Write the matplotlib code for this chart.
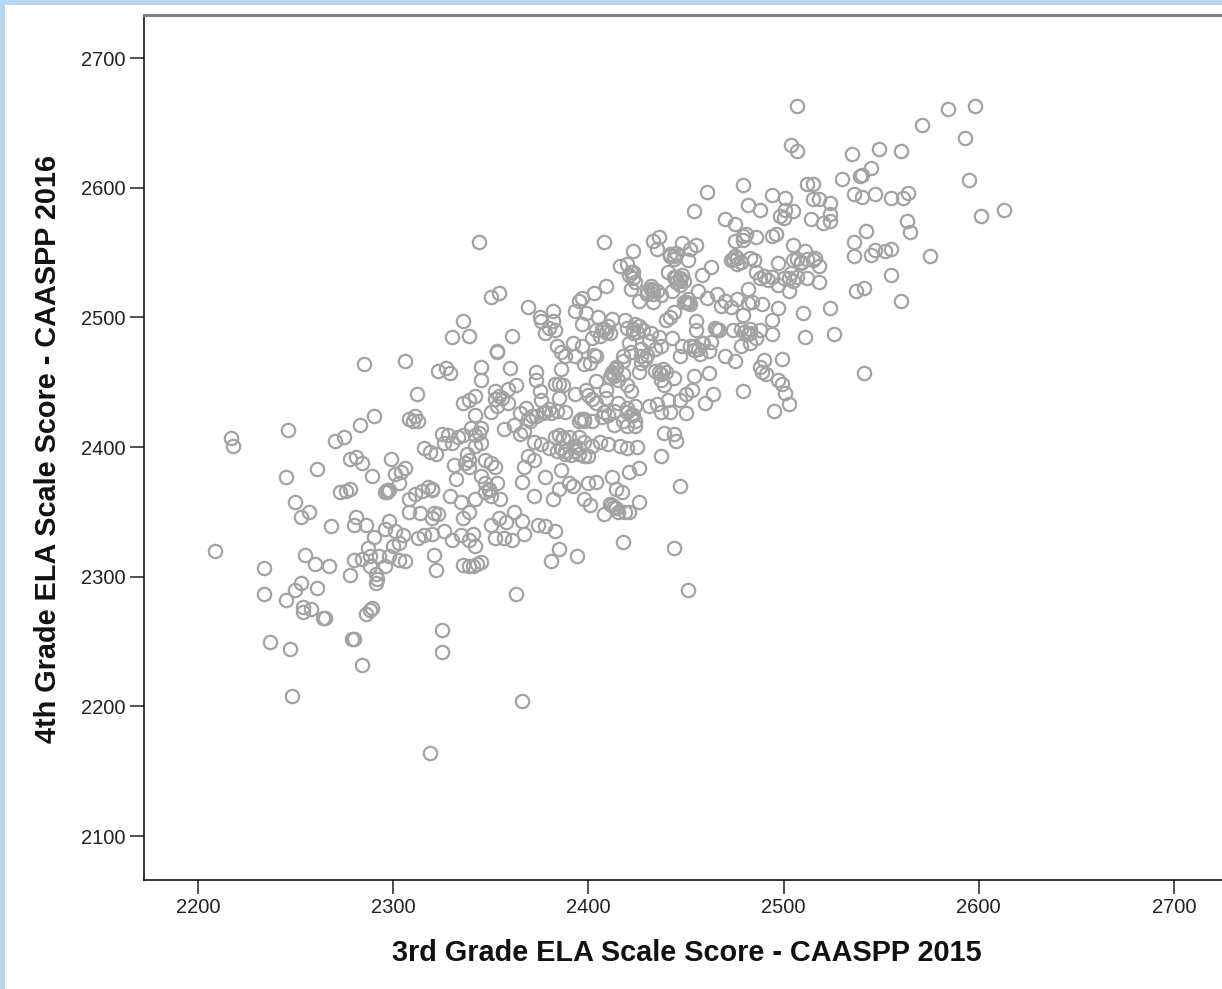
import matplotlib
matplotlib.use('Agg')
import matplotlib.pyplot as plt
from matplotlib.patches import Rectangle

plt.rcParams['font.family'] = ['Liberation Sans', 'DejaVu Sans']

grade3 = [2584,2598,2507,2571,2593,2504,2507,2535,2549,2560,2545,2540,2530,2539,2595,2512,2515,2479,2461,2536,
          2540,2547,2555,2561,2564,2601,2613,2494,2501,2515,2518,2524,2505,2501,2482,2488,2454,2524,2498,2500,
          2514,2520,2524,2563,2565,2542,2470,2475,2486,2479,2481,2494,2496,2475,2479,2505,2536,2408,2344,2433,
          2436,2435,2448,2452,2455,2423,2442,2444,2451,2474,2476,2478,2483,2485,2497,2511,2515,2518,2516,2505,
          2509,2512,2536,2545,2547,2552,2555,2575,2518,2512,2507,2504,2500,2497,2503,2490,2486,2482,2555,2541,
          2537,2560,2510,2511,2524,2526,2541,
          2458,2463,2416,2420,2422,2423,2424,2432,2433,2430,2441,2444,2445,2447,2449,2447,2443,2437,2435,2426,
          2433,2456,2461,2466,2470,2476,2468,2473,2482,2489,2497,2452,2451,2409,2422,2397,2395,2403,2354,2350,
          2369,2375,2382,2382,2393,2399,2405,2412,2404,2406,2408,2411,2402,2397,2419,2424,2420,2423,2428,2432,
          2436,2431,2440,2444,2449,2442,2455,2455,2466,2474,2478,2483,2488,2494,2494,2479,2484,2478,2483,2486,
          2463,2459,2457,2462,2454,2452,2448,2443,2437,2434,2427,2421,2418,2414,2412,2418,2422,2430,2427,2426,
          2434,2437,2440,2444,2439,2447,2470,2475,2462,2454,2479,2490,2488,2489,2491,2497,2499,2499,2501,2503,
          2495,2460,2464,2453,2450,2447,2441,2435,2437,2442,2450,2444,2445,2439,2437,2444,2447,2451,
          2217,2218,2209,2234,2234,2237,2247,2245,2250,2253,2254,2254,2258,2261,2255,2260,2267,2264,2265,2248,
          2246,2245,2250,2253,2257,2261,2268,2270,2273,2276,2278,2275,2278,2281,2284,2283,2285,2290,2289,2281,
          2280,2286,2278,2280,2284,2288,2290,2287,2291,2293,2291,2292,2279,2280,2284,2286,2288,2289,2288,2296,
          2298,2300,2303,2303,2306,2298,2296,2301,2305,2297,2297,2299,2301,2304,2306,2303,2308,2306,2312,2308,
          2310,2311,2313,2311,2315,2320,2308,2314,2313,2316,2321,2320,2323,2326,2321,2322,2320,2319,2325,2325,
          2366,2363,2323,2327,2329,2330,2336,2339,2316,2319,2322,2325,2328,2330,2326,2333,2336,2331,2332,2329,
          2330,2335,2339,2341,2342,2336,2339,2341,2343,2345,2336,2339,2335,2342,2339,2338,2342,2345,2340,2345,
          2342,2336,2339,2342,2345,2345,2350,2352,2356,2353,2353,2361,2360,2363,2359,2353,
          2347,2350,2352,2345,2347,2349,2350,2353,2355,2350,2354,2358,2357,2352,2361,2362,2366,2367,2369,2372,
          2366,2372,2367,2374,2378,2383,2385,2381,2394,2382,2385,2390,2392,2378,2386,2372,2376,2380,2384,2388,
          2391,2395,2398,2400,2393,2387,2390,2395,2398,2402,2400,2404,2398,2401,2408,2411,2413,2414,2417,2419,
          2415,2418,2426,2421,2412,2421,2426,2416,2420,2425,2406,2410,2413,2407,2404,2409,2402,2400,2398,2402,
          2395,2388,2384,2381,2377,2373,2370,2365,2368,2362,2357,2359,2365,2367,2376,2385,2375,2373,2373,2383,
          2385,2387,2393,2399,2404,2401,2404,2398,2393,2386,2384,2386,2392,2388,2378,2376,2380,2383,2397,2403,
          2409,2415,2411,2418,2420,2422,2415,2420,2424,2423,2424,2420,2424,2418,2413,2431,
          # overlapping clumps
          2473,2476,2478,2475,2442,2444,2445,2445,2447,2448,2430,2432,2433,2421,2423,2450,2451,2407,2409,2410,
          2423,2425,2426,2412,2414,2413,2427,2429,2436,2437,2438,2454,2456,2458,2465,2467,2480,2482,2483,2507,
          2509,2503,2505,2488,2490,2492,2494,2420,2422,2408,2410,
          2352,2354,2383,2385,2387,2342,2344,2337,2339,2347,2349,2318,2320,2386,2388,2393,2395,2396,2398,2369,
          2371,2378,2380,2412,2414,2296,2298]

grade4 = [2661,2663,2663,2648,2638,2633,2628,2626,2630,2628,2615,2610,2607,2609,2606,2603,2603,2602,2597,2595,
          2593,2595,2592,2592,2596,2578,2583,2594,2592,2591,2591,2588,2582,2583,2587,2583,2582,2580,2578,2577,
          2576,2573,2574,2574,2566,2567,2576,2572,2562,2563,2564,2563,2564,2559,2560,2556,2558,2558,2558,2559,
          2562,2553,2557,2553,2556,2551,2547,2545,2544,2545,2541,2543,2546,2544,2542,2551,2544,2540,2546,2544,
          2542,2545,2547,2548,2552,2551,2553,2547,2527,2530,2531,2534,2530,2525,2520,2532,2535,2522,2533,2523,
          2520,2513,2503,2485,2507,2487,2457,
          2533,2539,2540,2541,2535,2530,2527,2524,2521,2518,2535,2531,2527,2530,2528,2525,2520,2517,2520,2513,
          2512,2520,2515,2518,2513,2514,2509,2508,2511,2510,2507,2510,2511,2524,2522,2515,2513,2519,2519,2516,
          2508,2500,2505,2497,2505,2503,2500,2499,2490,2486,2491,2488,2484,2495,2498,2495,2492,2488,2490,2488,
          2485,2482,2498,2504,2512,2500,2497,2490,2491,2490,2491,2488,2490,2498,2487,2502,2512,2478,2480,2484,
          2481,2480,2472,2474,2475,2478,2478,2484,2478,2476,2476,2480,2470,2462,2456,2466,2473,2471,2465,2458,
          2459,2452,2458,2453,2448,2470,2470,2466,2457,2455,2443,2467,2462,2458,2456,2452,2449,2468,2442,2433,
          2428,2434,2441,2444,2441,2436,2436,2433,2427,2427,2426,2410,2405,2411,2393,2322,2370,2290,
          2407,2401,2320,2307,2287,2250,2244,2282,2290,2295,2277,2273,2275,2291,2317,2310,2308,2268,2268,2208,
          2413,2377,2358,2346,2350,2383,2339,2405,2365,2366,2368,2408,2391,2392,2388,2417,2464,2424,2378,2346,
          2340,2340,2301,2313,2314,2316,2331,2322,2302,2316,2295,2298,2252,2252,2232,2271,2274,2276,2308,2308,
          2316,2324,2313,2326,2312,2343,2337,2335,2332,2367,2365,2391,2379,2381,2384,2372,2360,2466,2441,2422,
          2420,2424,2420,2364,2366,2368,2350,2349,2330,2332,2349,2345,2348,2335,2317,2305,2333,2164,2259,2242,
          2204,2287,2459,2461,2457,2485,2497,2486,2399,2396,2395,2410,2409,2403,2403,2408,2409,2386,2375,2362,
          2328,2332,2328,2333,2324,2309,2308,2308,2310,2311,2345,2350,2358,2360,2385,2395,2401,2403,2415,2415,
          2425,2434,2436,2439,2462,2452,2427,2443,2438,2473,2474,2486,2461,2448,2445,2432,
          2390,2388,2385,2378,2372,2368,2362,2372,2360,2340,2345,2342,2330,2330,2328,2350,2373,2385,2393,2390,
          2343,2362,2333,2340,2339,2335,2321,2312,2316,2360,2368,2372,2370,2377,2382,2404,2402,2399,2397,2395,
          2394,2395,2393,2393,2401,2407,2408,2408,2404,2401,2372,2373,2360,2355,2348,2356,2354,2368,2365,2350,
          2350,2327,2358,2350,2377,2381,2384,2401,2399,2400,2404,2402,2417,2423,2434,2438,2437,2440,2422,2420,
          2420,2427,2428,2426,2426,2424,2420,2426,2430,2417,2414,2434,2410,2412,2436,2438,2443,2458,2452,2449,
          2449,2448,2441,2444,2451,2465,2470,2464,2470,2460,2478,2473,2480,2470,2488,2497,2492,2490,2478,2471,
          2444,2452,2454,2456,2448,2443,2434,2430,2432,2425,2420,2416,2416,2420,2428,2432,
          # overlapping clumps
          2544,2546,2543,2547,2549,2547,2550,2531,2529,2533,2520,2522,2518,2533,2535,2512,2514,2491,2489,2493,
          2491,2489,2493,2458,2460,2455,2470,2468,2458,2456,2460,2478,2476,2480,2492,2490,2489,2487,2491,2545,
          2543,2530,2528,2530,2532,2529,2531,2427,2425,2427,2425,
          2437,2439,2408,2409,2407,2409,2411,2388,2390,2365,2367,2369,2367,2399,2397,2397,2399,2422,2420,2422,
          2424,2427,2429,2355,2353,2365,2367]

x_ticks = [2200, 2300, 2400, 2500, 2600, 2700]
y_ticks = [2100, 2200, 2300, 2400, 2500, 2600, 2700]

fig = plt.figure(figsize=(12.22, 9.89), dpi=100)
ax = fig.add_axes([144/1222, 1-879.5/989, 1-144/1222, (879.5-15)/989])

# the grey circles
ax.plot(grade3, grade4, linestyle='none', marker='o', markersize=9.6, markerfacecolor='none',
        markeredgecolor='#a3a3a3', markeredgewidth=1.6)

ax.set_xlim(2172.4, 2724.6)
ax.set_ylim(2066.5, 2733.2)
ax.set_xticks(x_ticks)
ax.set_yticks(y_ticks)
ax.tick_params(length=10, width=1.1, color='#222222', labelsize=14.5, labelcolor='#222222', pad=3)

ax.spines['right'].set_visible(False)
ax.spines['left'].set_linewidth(1.1)
ax.spines['bottom'].set_linewidth(1.1)
ax.spines['top'].set_linewidth(2.2)
ax.spines['top'].set_color('#808080')

fig.text(686.5/1222, 1-953/989, '3rd Grade ELA Scale Score - CAASPP 2015', fontsize=20.8, fontweight='bold',
         ha='center', va='center', color='#111111')
fig.text(48/1222, 1-449/989, '4th Grade ELA Scale Score - CAASPP 2016', fontsize=20.8, fontweight='bold',
         rotation=90, ha='center', va='center', color='#111111')

# light blue window edge at top and left
fig.add_artist(Rectangle((0, 0), 5/1222, 1, transform=fig.transFigure, color='#bcd6ee', lw=0))
fig.add_artist(Rectangle((0, 1-5/989), 1, 5/989, transform=fig.transFigure, color='#bcd6ee', lw=0))

fig.savefig('out.png', dpi=100)
